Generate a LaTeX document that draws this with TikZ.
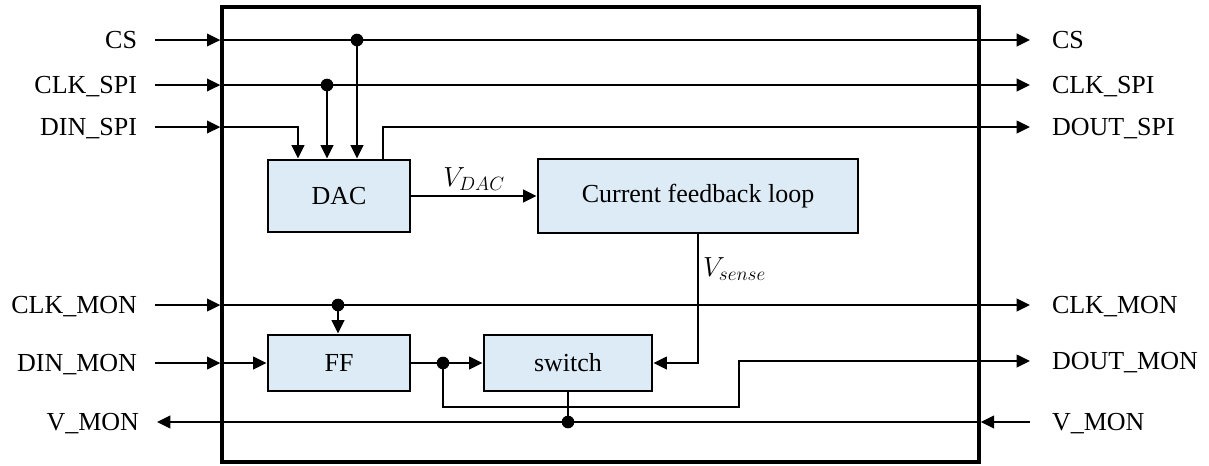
\documentclass[tikz,border=0pt]{standalone}
\usepackage{fontspec}
\setmainfont{Liberation Serif}
\usetikzlibrary{arrows.meta}
\definecolor{blockfill}{RGB}{221,235,247}
\begin{document}
\begin{tikzpicture}[x=0.75pt, y=-0.75pt, line width=1.5pt,
  every node/.style={font=\fontsize{19.5}{23}\selectfont},
  block/.style={draw=black, line width=2.2pt, fill=blockfill, inner sep=0pt},
  pin/.style={-{Triangle[length=10pt, width=9.5pt]}},
  thin line/.style={line width=1.1pt},
  junction/.style={circle, fill=black, inner sep=0pt, minimum size=9.5pt},
  lblL/.style={inner sep=0pt, outer xsep=13.5pt, text height=12.9pt, text depth=0pt, anchor=east},
  lblR/.style={inner sep=0pt, outer xsep=16.5pt, text height=12.9pt, text depth=0pt, anchor=west}]

\useasboundingbox (0,0) rectangle (1209,465);

% chip outline and blocks
\node[draw, line width=2.5pt, inner sep=0pt, minimum width=567.75pt, minimum height=341.25pt] (chip) at (600.5,234.5) {};
\node[block, minimum width=106.5pt, minimum height=54pt] (DAC) at (339,196) {DAC};
\node[block, minimum width=240pt, minimum height=55.5pt] (CFL) at (698,196) {Current feedback loop};
\node[block, minimum width=106.5pt, minimum height=42pt] (FF) at (339,363) {FF};
\node[block, minimum width=126pt, minimum height=42pt] (SW) at (568,363) {switch};

% pin labels
\node[lblL] (csL) at (155,40) {CS};
\node[lblL] (clkL) at (155,85) {CLK\_SPI};
\node[lblL] (dinL) at (155,127) {DIN\_SPI};
\node[lblL] (clkmL) at (155,305) {CLK\_MON};
\node[lblL] (dinmL) at (155,363) {DIN\_MON};
\node[lblL] (vmonL) at (157,422) {V\_MON};
\node[lblR] (csR) at (1030,40) {CS};
\node[lblR] (clkR) at (1030,85) {CLK\_SPI};
\node[lblR] (doutR) at (1030,127) {DOUT\_SPI};
\node[lblR] (clkmR) at (1030,305) {CLK\_MON};
\node[lblR] (doutmR) at (1030,361) {DOUT\_MON};
\node[lblR] (vmonR) at (1030,422) {V\_MON};

\coordinate (dinK) at (298,127);
\coordinate (doutK) at (383,127);
\coordinate (loopA) at (443,407);
\coordinate (loopB) at (739,407);

% SPI side
\draw[pin] (csL.east) -- (csL.east -| chip.west);
\draw[pin] (csL.east -| chip.west) -- (csR.west);
\draw[pin] (clkL.east) -- (clkL.east -| chip.west);
\draw[pin] (clkL.east -| chip.west) -- (clkR.west);
\draw[pin] (dinL.east) -- (dinL.east -| chip.west);
\draw[pin, thin line] (dinL.east -| chip.west) -- (dinK) -- (dinK |- DAC.north);
\node[junction] (csJ) at (357,40) {};
\node[junction] (clkJ) at (327,85) {};
\draw[pin] (csJ.center) -- (csJ.center |- DAC.north);
\draw[pin] (clkJ.center) -- (clkJ.center |- DAC.north);
\draw[pin, thin line] (doutK |- DAC.north) -- (doutK) -- (doutR.west);
\draw[pin] (DAC) -- node[above] (vdacLbl) {$V_{DAC}$} (CFL);
\draw[pin, thin line] (CFL.south) -- node[right, pos=0.27] (vsenseLbl) {$V_{sense}$} (CFL.south |- SW) -- (SW);

% monitor side
\draw[pin] (clkmL.east) -- (clkmL.east -| chip.west);
\draw[pin] (clkmL.east -| chip.west) -- (clkmR.west);
\node[junction] (clkmJ) at (338,305) {};
\draw[pin] (clkmJ.center) -- (clkmJ.center |- FF.north);
\draw[pin] (dinmL.east) -- (dinmL.east -| chip.west);
\draw[pin, thin line] (dinmL.east -| chip.west) -- (FF);
\draw[pin, thin line] (FF) -- (SW);
\node[junction] (ffJ) at (443,363) {};
\draw[pin, thin line] (ffJ.center) -- (loopA) -- (loopB) -- (loopB |- doutmR) -- (doutmR.west);
\draw[pin] (vmonR.west) -- (vmonR.west -| chip.east);
\draw[pin] (vmonR.west -| chip.east) -- (vmonL.east);
\node[junction] (vmonJ) at (568,422) {};
\draw (SW.south) -- (vmonJ.center);

\end{tikzpicture}
\end{document}
